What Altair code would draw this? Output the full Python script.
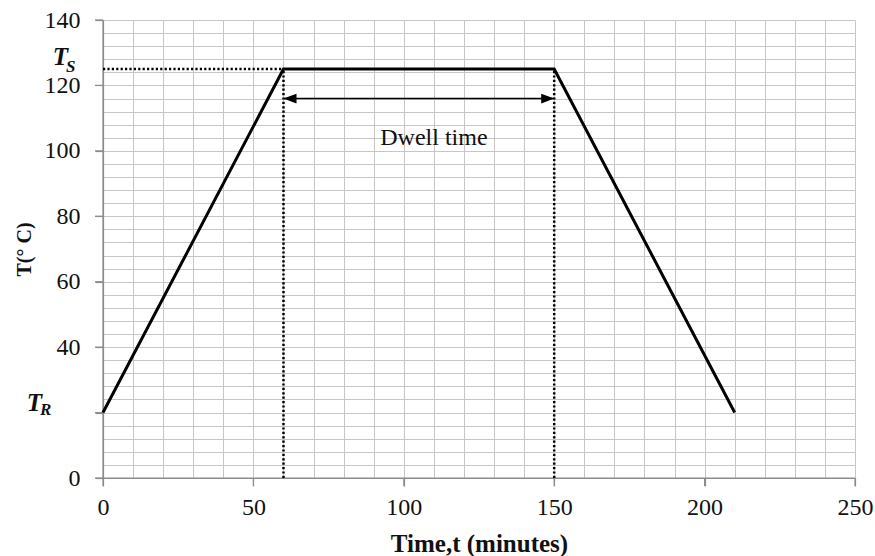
import altair as alt
import pandas as pd

# Cure-cycle temperature profile: ramp up, dwell, ramp down
time_min = [0, 60, 150, 210]
temp_c = [20, 125, 125, 20]

t_soak = 125          # T_S
t_room = 20           # T_R
dwell_start = 60
dwell_end = 150
arrow_level = 116
dwell_label_x = 110
dwell_label_y = 104

x_ticks = [0, 50, 100, 150, 200, 250]
y_ticks = [0, 20, 40, 60, 80, 100, 120, 140]
x_grid = list(range(0, 251, 10))   # fine grid
y_grid = list(range(0, 141, 4))

SERIF = "Liberation Serif"
INK = "#111111"
AXIS_GRAY = "#8c8c8c"
GRID_GRAY = "#c6c6c6"
PLOT_W, PLOT_H, TICK = 752, 458, 8

profile = pd.DataFrame({"t": time_min, "T": temp_c})

x_scale = alt.Scale(domain=[0, 250], nice=False, zero=False)
y_scale = alt.Scale(domain=[0, 140], nice=False)

x_axis = alt.Axis(
    values=x_grid, grid=True, gridColor=GRID_GRAY, gridWidth=1,
    domain=True, domainColor=AXIS_GRAY, domainWidth=1.2,
    ticks=True, tickSize=TICK, tickWidth=1.2,
    tickColor={"condition": {"test": "datum.value % 50 === 0", "value": AXIS_GRAY},
               "value": "transparent"},
    labelExpr="datum.value % 50 === 0 ? datum.label : ''",
    labelFont=SERIF, labelFontSize=24, labelColor=INK, labelPadding=9,
    labelFlush=False, labelOverlap=False,
    title="Time,t (minutes)", titleFont=SERIF, titleFontSize=25,
    titleFontWeight="bold", titleColor=INK, titleY=65, titleBaseline="middle",
)
y_axis = alt.Axis(
    values=y_grid, grid=True, gridColor=GRID_GRAY, gridWidth=1,
    domain=True, domainColor=AXIS_GRAY, domainWidth=1.2,
    ticks=True, tickSize=TICK, tickWidth=1.2,
    tickColor={"condition": {"test": "datum.value % 20 === 0", "value": AXIS_GRAY},
               "value": "transparent"},
    labelExpr="(datum.value % 20 === 0 && datum.value !== 20) ? datum.label : ''",
    labelFont=SERIF, labelFontSize=24, labelColor=INK, labelPadding=15,
    labelFlush=False, labelOverlap=False,
    title="T(° C)", titleFont=SERIF, titleFontSize=20,
    titleFontWeight="bold", titleColor=INK,
    titleX=-79, titleY=229, titleAngle=-90, titleAlign="center", titleBaseline="middle",
)


def X(field):
    return alt.X(field, type="quantitative", scale=x_scale, axis=x_axis)


def Y(field):
    return alt.Y(field, type="quantitative", scale=y_scale, axis=y_axis)


# Axis lines and outward tick marks
frame = pd.DataFrame({"x": [0, 0], "x2": [250, 0], "y": [0, 0], "y2": [0, 140]})
frame_layer = alt.Chart(frame).mark_rule(color=AXIS_GRAY, strokeWidth=1.2).encode(
    x=X("x"), x2="x2:Q", y=Y("y"), y2="y2:Q")
xtick_layer = alt.Chart(pd.DataFrame({"x": x_ticks})).mark_rule(
    color=AXIS_GRAY, strokeWidth=1.2
).encode(x=X("x"), y=alt.value(PLOT_H), y2=alt.value(PLOT_H + TICK))
ytick_layer = alt.Chart(pd.DataFrame({"y": y_ticks})).mark_rule(
    color=AXIS_GRAY, strokeWidth=1.2
).encode(y=Y("y"), x=alt.value(-TICK), x2=alt.value(0))

# Main temperature profile
line_layer = alt.Chart(profile).mark_line(color="black", strokeWidth=3).encode(
    x=X("t"), y=Y("T"))

# Dotted guides to T_S and the dwell boundaries
guides = pd.DataFrame({
    "x": [0, dwell_start, dwell_end],
    "x2": [dwell_start, dwell_start, dwell_end],
    "y": [t_soak, 0, 0],
    "y2": [t_soak, t_soak, t_soak],
})
guide_layer = alt.Chart(guides).mark_rule(
    color="black", strokeWidth=2.5, strokeDash=[2.2, 2.2], strokeCap="butt"
).encode(x=X("x"), x2="x2:Q", y=Y("y"), y2="y2:Q")

# Double-headed dwell arrow
arrow_df = pd.DataFrame({"x": [dwell_start], "x2": [dwell_end], "y": [arrow_level]})
arrow_shaft = alt.Chart(arrow_df).mark_rule(color="black", strokeWidth=1.6).encode(
    x=X("x"), x2="x2:Q", y=Y("y"))
head_left = alt.Chart(pd.DataFrame({"x": [dwell_start], "y": [arrow_level]})).mark_point(
    shape="M0,0L2,-0.75L2,0.75Z", filled=True, color="black", size=169, opacity=1
).encode(x=X("x"), y=Y("y"))
head_right = alt.Chart(pd.DataFrame({"x": [dwell_end], "y": [arrow_level]})).mark_point(
    shape="M0,0L-2,-0.75L-2,0.75Z", filled=True, color="black", size=169, opacity=1
).encode(x=X("x"), y=Y("y"))

dwell_text = alt.Chart(pd.DataFrame({"x": [dwell_label_x], "y": [dwell_label_y],
                                     "label": ["Dwell time"]})).mark_text(
    font=SERIF, fontSize=24, color=INK, align="center", baseline="middle"
).encode(x=X("x"), y=Y("y"), text="label:N")

# T_S and T_R symbols beside the y axis (main letter plus subscript)
sym = pd.DataFrame({"y": [t_soak, t_room], "main": ["T", "T"], "sub": ["S", "R"],
                    "xm": [-35, -61], "dym": [-4, -2], "dys": [3, 2]})


def symbol_layer(row):
    d = sym.iloc[[row]]
    main = alt.Chart(d).mark_text(
        font=SERIF, fontSize=25, fontStyle="italic", fontWeight="bold", color=INK,
        align="right", baseline="alphabetic", dy=float(d["dym"].iloc[0])
    ).encode(x=alt.value(float(d["xm"].iloc[0])), y=Y("y"), text="main:N")
    sub = alt.Chart(d).mark_text(
        font=SERIF, fontSize=17, fontStyle="italic", fontWeight="bold", color=INK,
        align="left", baseline="alphabetic", dy=float(d["dys"].iloc[0])
    ).encode(x=alt.value(float(d["xm"].iloc[0]) - 2), y=Y("y"), text="sub:N")
    return main + sub


chart = alt.layer(
    frame_layer, xtick_layer, ytick_layer,
    line_layer, guide_layer, arrow_shaft, head_left, head_right, dwell_text,
    symbol_layer(0), symbol_layer(1),
).properties(
    width=PLOT_W, height=PLOT_H,
    autosize=alt.AutoSizeParams(type="none"),
    padding={"left": 103, "top": 20, "right": 20, "bottom": 78},
    background="white",
).configure_view(stroke=None)

chart.save("out.html", embed_options={"renderer": "svg", "actions": False})
